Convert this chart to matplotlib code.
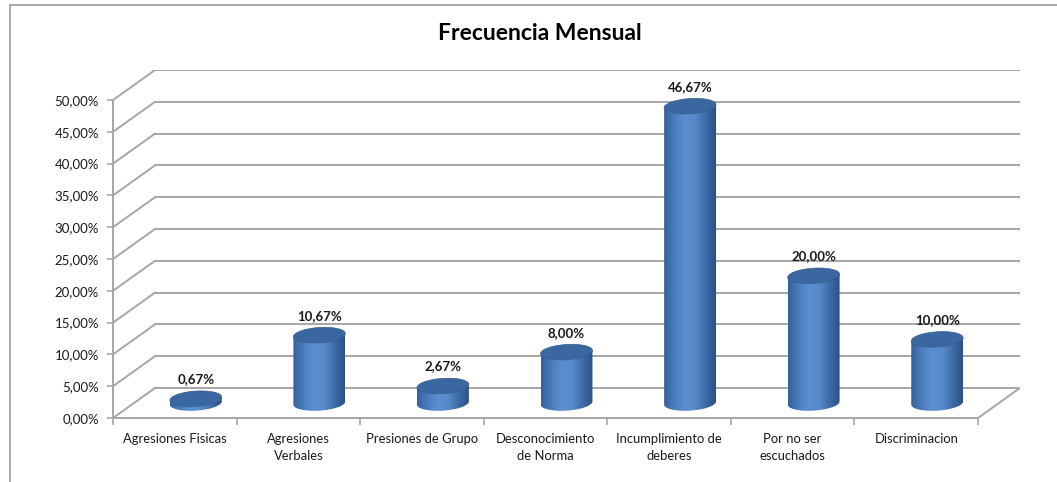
import numpy as np
import matplotlib
matplotlib.use('Agg')
from matplotlib import pyplot as plt
from matplotlib.patches import Polygon, Rectangle
from matplotlib.colors import LinearSegmentedColormap

# datos del grafico
titulo = 'Frecuencia Mensual'
categorias = ['Agresiones Fisicas', 'Agresiones\nVerbales', 'Presiones de Grupo',
              'Desconocimiento\nde Norma', 'Incumplimiento de\ndeberes',
              'Por no ser\nescuchados', 'Discriminacion']
porcentajes = [0.67, 10.67, 2.67, 8.00, 46.67, 20.00, 10.00]
ticks_y = [0, 5, 10, 15, 20, 25, 30, 35, 40, 45, 50]

plt.rcParams['font.family'] = ['Lato', 'DejaVu Sans']

# profundidad del "3d" en unidades de datos
dx = 0.34
dy = 4.72
ancho = 0.42      # ancho del cilindro en categorias
alto_el = 2.4     # alto de la elipse en %
incl = 0.25       # inclinacion de la elipse

gris = '#a6a6a6'
n = len(categorias)

fig = plt.figure(figsize=(10.57, 4.82), dpi=100)
ax = fig.add_axes([113/1057, 64/482, 907/1057, 348/482])
ax.set_xlim(-0.5, n - 0.5 + dx)
ax.set_ylim(0, 50 + dy)
ax.patch.set_visible(False)

# marco del grafico
fig.patches.append(Rectangle((10/1057, -0.1), 1.2, 1 - 5/482 + 0.1,
                             transform=fig.transFigure, fill=False,
                             edgecolor='#9a9a9a', linewidth=1.2))

# paredes: lineas de fondo y diagonales
for v in ticks_y:
    ax.plot([-0.5 + dx, n - 0.5 + dx], [v + dy, v + dy], color=gris, lw=1.4, zorder=1)
    ax.plot([-0.5, -0.5 + dx], [v, v + dy], color=gris, lw=1.4, zorder=1)
ax.plot([n - 0.5, n - 0.5 + dx], [0, dy], color=gris, lw=1.4, zorder=1)

# ejes
for s in ['top', 'right']:
    ax.spines[s].set_visible(False)
ax.spines['left'].set_bounds(0, 50)
ax.spines['bottom'].set_bounds(-0.5, n - 0.5)
ax.spines['left'].set_color(gris)
ax.spines['bottom'].set_color(gris)
ax.spines['left'].set_linewidth(1.4)
ax.spines['bottom'].set_linewidth(1.4)

ax.set_yticks(ticks_y)
ax.set_yticklabels([('%.2f%%' % v).replace('.', ',') for v in ticks_y])
ax.tick_params(axis='y', length=4, width=1.2, color=gris, pad=6,
               labelsize=9.5, labelcolor='#1a1a1a')
ax.set_xticks(np.arange(n + 1) - 0.5)
ax.set_xticklabels([])
ax.tick_params(axis='x', length=5, width=1.2, color=gris)
ax.set_xticks(np.arange(n), minor=True)
ax.set_xticklabels(categorias, minor=True, linespacing=1.45)
ax.tick_params(axis='x', which='minor', length=0, pad=11,
               labelsize=9.4, labelcolor='#1a1a1a')

# colores del cilindro
cmap = LinearSegmentedColormap.from_list('cil', ['#35609a', '#4a7dbd', '#5b8fd1',
                                                 '#578acb', '#3e6ca8', '#2b5186'])
grad = np.linspace(0, 1, 200).reshape(1, -1)

t = np.linspace(0, 2 * np.pi, 100)
for i, v in enumerate(porcentajes):
    cx = i + dx / 2
    base = dy / 2
    top = v + dy / 2
    a = ancho / 2
    b = alto_el / 2
    # cuerpo
    tb = np.linspace(np.pi, 2 * np.pi, 60)
    xs_b = cx + a * np.cos(tb)
    ys_b = base + b * np.sin(tb) + incl * np.cos(tb)
    cuerpo = np.vstack([[cx - a, top - incl],
                        np.column_stack([xs_b, ys_b]),
                        [cx + a, top + incl]])
    poly = Polygon(cuerpo, closed=True, facecolor='none', edgecolor='none', zorder=3)
    ax.add_patch(poly)
    im = ax.imshow(grad, cmap=cmap, aspect='auto', zorder=3,
                   extent=[cx - a, cx + a, base - b - 0.6, top + 0.6],
                   interpolation='bilinear')
    im.set_clip_path(poly)
    # tapa
    xs_t = cx + a * np.cos(t)
    ys_t = top + b * np.sin(t) + incl * np.cos(t)
    ax.add_patch(Polygon(np.column_stack([xs_t, ys_t]), closed=True,
                         facecolor='#3b67a1', edgecolor='#34608f', lw=0.5, zorder=4))
    # etiqueta
    ax.annotate(('%.2f%%' % v).replace('.', ','), (cx, top), xytext=(0, 14),
                textcoords='offset points', ha='center', va='center',
                fontsize=9.5, fontweight='bold', color='#1a1a1a', zorder=5)

ax.set_xlim(-0.5, n - 0.5 + dx)
ax.set_ylim(0, 50 + dy)

fig.text(540/1057, 1 - 33/482, titulo, ha='center', va='center',
         fontsize=16.5, fontweight='bold', color='#000000')

fig.savefig('out.png', dpi=100)
